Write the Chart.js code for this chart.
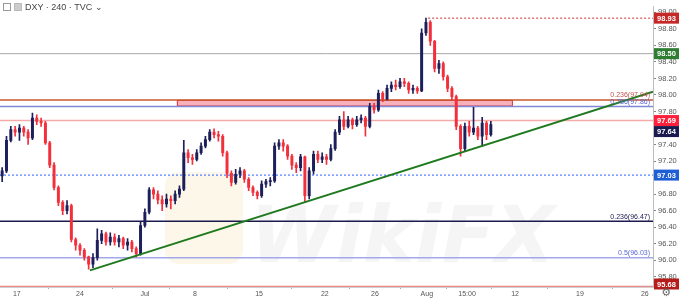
<!DOCTYPE html>
<html>
<head>
<meta charset="utf-8">
<script src="https://cdn.jsdelivr.net/npm/chart.js@4.4.1/dist/chart.umd.min.js"></script>
<style>
    body { margin: 0; background: #fff; }
    #wrap { position: relative; width: 679px; height: 299px; overflow: hidden; }
    #head {
        position: absolute; left: 3px; top: 2px;
        font: 9px "Liberation Sans", Arial, sans-serif; color: #444;
    }
    #head .ic { display: inline-block; width: 6px; height: 6px; border: 1px solid #999; margin-right: 3px; vertical-align: -1px; }
    #head .ic2 { background: #ccc; border-color: #bbb; }
    #gear { position: absolute; right: 8px; bottom: 0px; font: 11px "DejaVu Sans", sans-serif; color: #666; }
</style>
</head>
<body>
<div id="wrap">
    <canvas id="grafico" width="679" height="299"></canvas>
    <div id="head"><span class="ic"></span><span class="ic ic2"></span>DXY · 240 · TVC ⌄</div>
    <div id="gear">⚙</div>
</div>
<script>
// velas de 8h (open = fechamento anterior)
var primeiraAbertura = 97.02;
var fechamentos = [
    97.08, 97.45, 97.58, 97.55, 97.60, 97.55, 97.48, 97.72, 97.68, 97.66,
    97.42, 97.15, 96.88, 96.70, 96.60, 96.66, 96.25, 96.18, 96.12, 96.04,
    95.95, 96.03, 96.24, 96.32, 96.22, 96.28, 96.22, 96.26, 96.18, 96.22,
    96.14, 96.08, 96.42, 96.58, 96.85, 96.80, 96.73, 96.68, 96.74, 96.72,
    96.80, 96.86, 97.30, 97.24, 97.22, 97.30, 97.38, 97.46, 97.55, 97.52,
    97.50, 97.30, 97.05, 96.94, 97.04, 97.08, 96.98, 96.88, 96.82, 96.78,
    96.92, 96.95, 96.96, 97.38, 97.42, 97.38, 97.26, 97.15, 97.12, 97.25,
    96.78, 97.08, 97.28, 97.22, 97.25, 97.22, 97.35, 97.55, 97.70, 97.62,
    97.70, 97.64, 97.70, 97.72, 97.62, 97.86, 97.82, 98.02, 97.95, 98.08,
    98.12, 98.10, 98.16, 98.14, 98.06, 98.08, 98.05, 98.75, 98.88, 98.65,
    98.32, 98.38, 98.22, 98.08, 97.98, 97.62, 97.35, 97.62, 97.55, 97.60,
    97.50, 97.66, 97.52, 97.64
];
var maximas = [
    97.12, 97.50, 97.62, 97.62, 97.64, 97.62, 97.58, 97.78, 97.76, 97.72,
    97.68, 97.44, 97.18, 96.90, 96.72, 96.72, 96.68, 96.27, 96.20, 96.14,
    96.05, 96.08, 96.38, 96.36, 96.34, 96.33, 96.32, 96.30, 96.28, 96.26,
    96.24, 96.16, 96.46, 96.62, 96.88, 96.88, 96.84, 96.78, 96.80, 96.78,
    96.84, 96.90, 97.45, 97.34, 97.28, 97.34, 97.42, 97.50, 97.58, 97.59,
    97.56, 97.52, 97.32, 97.08, 97.10, 97.12, 97.10, 97.00, 96.90, 96.84,
    96.96, 96.98, 97.00, 97.42, 97.46, 97.46, 97.40, 97.28, 97.18, 97.28,
    97.26, 97.12, 97.32, 97.32, 97.30, 97.28, 97.40, 97.58, 97.74, 97.80,
    97.74, 97.72, 97.74, 97.76, 97.74, 97.90, 97.90, 98.06, 98.04, 98.12,
    98.16, 98.18, 98.20, 98.20, 98.16, 98.12, 98.10, 98.80, 98.93, 98.90,
    98.66, 98.42, 98.40, 98.24, 98.10, 98.00, 97.64, 97.66, 97.68, 97.85,
    97.62, 97.73, 97.68, 97.68
];
var minimas = [
    96.95, 97.06, 97.43, 97.50, 97.45, 97.50, 97.40, 97.46, 97.64, 97.62,
    97.40, 97.12, 96.85, 96.66, 96.55, 96.56, 96.22, 96.12, 96.06, 96.00,
    95.89, 95.91, 96.00, 96.20, 96.18, 96.18, 96.18, 96.16, 96.14, 96.12,
    96.10, 96.04, 96.06, 96.40, 96.56, 96.74, 96.68, 96.60, 96.64, 96.62,
    96.68, 96.76, 96.84, 97.18, 97.16, 97.20, 97.28, 97.36, 97.44, 97.48,
    97.44, 97.26, 97.00, 96.90, 96.92, 97.00, 96.94, 96.84, 96.78, 96.74,
    96.76, 96.88, 96.90, 96.94, 97.34, 97.32, 97.22, 97.10, 97.06, 97.08,
    96.70, 96.74, 97.04, 97.18, 97.18, 97.16, 97.20, 97.33, 97.52, 97.58,
    97.60, 97.59, 97.62, 97.66, 97.50, 97.60, 97.78, 97.80, 97.92, 97.94,
    98.04, 98.06, 98.08, 98.10, 98.02, 98.02, 98.02, 98.04, 98.72, 98.60,
    98.28, 98.26, 98.18, 98.04, 97.94, 97.58, 97.26, 97.32, 97.50, 97.52,
    97.46, 97.38, 97.46, 97.50
];

// eixo x: posicao (em velas) e texto
var posDatas = [3.9, 18.5, 33.5, 45.1, 59.9, 75.1, 86.7, 98.7, 108.0, 119.1, 134.1, 149.1];
var textoDatas = ['17', '24', 'Jul', '8', '15', '22', '26', 'Aug', '15:00', '12', '19', '26'];
var ticksPreco = [95.8, 96.0, 96.2, 96.4, 96.6, 96.8, 97.0, 97.2, 97.4, 97.6, 97.8, 98.0, 98.2, 98.4, 98.6, 98.8, 99.0];

// niveis horizontais
var niveis = [98.93, 98.50, 97.94, 97.86, 97.69, 97.03, 96.47, 96.03, 95.68];
var inicioNivel = [99.0, 0, 0, 0, 0, 0, 0, 0, 0];
var corNivel = ['#d32f2f', '#a8a8a8', '#c8582e', '#8088d8', '#f5aaaa', '#2962ff', '#1a1a4e', '#a3a8ea', '#e88a8a'];
var tracoNivel = [[2, 2], [], [], [], [], [2, 2], [], [], []];
var espessuraNivel = [1, 1, 1.5, 1.5, 1.5, 1, 1.5, 1.5, 1.5];

// caixas no eixo de preco
var etiquetas = [98.93, 98.50, 97.69, 97.64, 97.03, 95.68];
var corEtiqueta = ['#c62828', '#2e7d32', '#ff1f3a', '#1a1a4e', '#1f5fd6', '#b71c1c'];

// textos de fibonacci
var fibTexto = ['0.236(97.94)', '0.786(97.86)', '0.236(96.47)', '0.5(96.03)'];
var fibNivel = [97.94, 97.86, 96.47, 96.03];
var fibCor = ['#c0504d', '#5866d8', '#1a1a4e', '#5866d8'];

// zona e linha de tendencia
var zonaX = [40.9, 118.6];
var zonaY = [97.86, 97.94];
var tendenciaX = [20.8, 151];
var tendenciaY = [95.876, 98.04];

var xMax = 151;
var corAlta = '#1c1f5a';
var corBaixa = '#f2303c';

var pavios = [];
var corpos = [];
var cores = [];
for (var i = 0; i < fechamentos.length; i++) {
    var abertura = i == 0 ? primeiraAbertura : fechamentos[i - 1];
    pavios.push({ x: i + 0.5, y: [minimas[i], maximas[i]] });
    corpos.push({ x: i + 0.5, y: [abertura, fechamentos[i]] });
    cores.push(fechamentos[i] >= abertura ? corAlta : corBaixa);
}

var linhas = [];
for (var n = 0; n < niveis.length; n++) {
    linhas.push({
        type: 'line',
        data: [{ x: inicioNivel[n], y: niveis[n] }, { x: xMax, y: niveis[n] }],
        borderColor: corNivel[n],
        borderWidth: espessuraNivel[n],
        borderDash: tracoNivel[n],
        pointRadius: 0,
        order: 5
    });
}

const pluginExtras = {
    id: 'extras',
    beforeDatasetsDraw(chart) {
        const ctx = chart.ctx;
        const x = chart.scales.x;
        const y = chart.scales.y;
        // marca d'agua
        ctx.save();
        ctx.fillStyle = 'rgba(246, 228, 175, 0.28)';
        ctx.beginPath();
        ctx.roundRect(165, 172, 78, 92, 14);
        ctx.fill();
        ctx.fillStyle = 'rgba(0, 0, 0, 0.04)';
        ctx.font = 'italic bold 78px "DejaVu Sans"';
        ctx.fillText('WikiFX', 250, 262);
        ctx.restore();
        // zona de resistencia
        const x1 = x.getPixelForValue(zonaX[0]);
        const x2 = x.getPixelForValue(zonaX[1]);
        const y1 = y.getPixelForValue(zonaY[1]);
        const y2 = y.getPixelForValue(zonaY[0]);
        ctx.save();
        ctx.fillStyle = 'rgba(240, 100, 118, 0.5)';
        ctx.fillRect(x1, y1, x2 - x1, y2 - y1);
        ctx.strokeStyle = '#e0303a';
        ctx.lineWidth = 1;
        ctx.strokeRect(x1 + 0.5, y1 + 0.5, x2 - x1 - 1, y2 - y1 - 1);
        ctx.restore();
    },
    afterDraw(chart) {
        const ctx = chart.ctx;
        const y = chart.scales.y;
        const area = chart.chartArea;
        ctx.save();
        ctx.font = '7px "Liberation Sans"';
        ctx.textAlign = 'right';
        ctx.textBaseline = 'bottom';
        for (var f = 0; f < fibTexto.length; f++) {
            ctx.fillStyle = fibCor[f];
            ctx.fillText(fibTexto[f], area.right - 3, y.getPixelForValue(fibNivel[f]) - 1);
        }
        ctx.font = 'bold 7.5px "Liberation Sans"';
        ctx.textAlign = 'center';
        ctx.textBaseline = 'middle';
        var ultimo = -100;
        for (var e = 0; e < etiquetas.length; e++) {
            var py = Math.min(y.getPixelForValue(etiquetas[e]), area.bottom - 3);
            if (py - ultimo < 11) py = ultimo + 11;
            ultimo = py;
            ctx.fillStyle = corEtiqueta[e];
            ctx.fillRect(area.right + 1, py - 5.5, 25, 11);
            ctx.fillStyle = '#fff';
            ctx.fillText(etiquetas[e].toFixed(2), area.right + 13.5, py + 0.5);
        }
        ctx.restore();
    }
};

new Chart(document.getElementById('grafico'), {
    data: {
        datasets: [
            {
                type: 'bar',
                data: pavios,
                backgroundColor: cores,
                barThickness: 1,
                grouped: false,
                order: 2
            },
            {
                type: 'bar',
                data: corpos,
                backgroundColor: cores,
                barThickness: 2.3,
                minBarLength: 1,
                grouped: false,
                order: 1
            },
            {
                type: 'line',
                data: [{ x: tendenciaX[0], y: tendenciaY[0] }, { x: tendenciaX[1], y: tendenciaY[1] }],
                borderColor: '#1f7a1f',
                borderWidth: 2,
                pointRadius: 0,
                order: 0
            }
        ].concat(linhas)
    },
    options: {
        responsive: false,
        devicePixelRatio: 1,
        animation: false,
        layout: { padding: 0 },
        plugins: {
            legend: { display: false },
            tooltip: { enabled: false }
        },
        scales: {
            x: {
                type: 'linear',
                min: 0,
                max: xMax,
                offset: false,
                afterBuildTicks: (s) => { s.ticks = posDatas.map(v => ({ value: v })); },
                afterFit: (s) => { s.height = 12; },
                ticks: {
                    callback: (v) => textoDatas[posDatas.indexOf(v)],
                    color: '#555',
                    font: { size: 7, family: 'Liberation Sans' },
                    padding: 1,
                    maxRotation: 0,
                    autoSkip: false
                },
                grid: { drawOnChartArea: false, tickLength: 2, color: '#aaa' },
                border: { color: '#d0d0d0' }
            },
            y: {
                position: 'right',
                min: 95.675,
                max: 99.071,
                afterBuildTicks: (s) => { s.ticks = ticksPreco.map(v => ({ value: v })); },
                afterFit: (s) => { s.width = 26; },
                ticks: {
                    callback: (v) => v.toFixed(2),
                    color: '#555',
                    font: { size: 7.5, family: 'Liberation Sans' },
                    padding: 2
                },
                grid: { drawOnChartArea: false, tickLength: 3, color: '#888' },
                border: { color: '#bdbdbd' }
            }
        }
    },
    plugins: [pluginExtras]
});
</script>
</body>
</html>
